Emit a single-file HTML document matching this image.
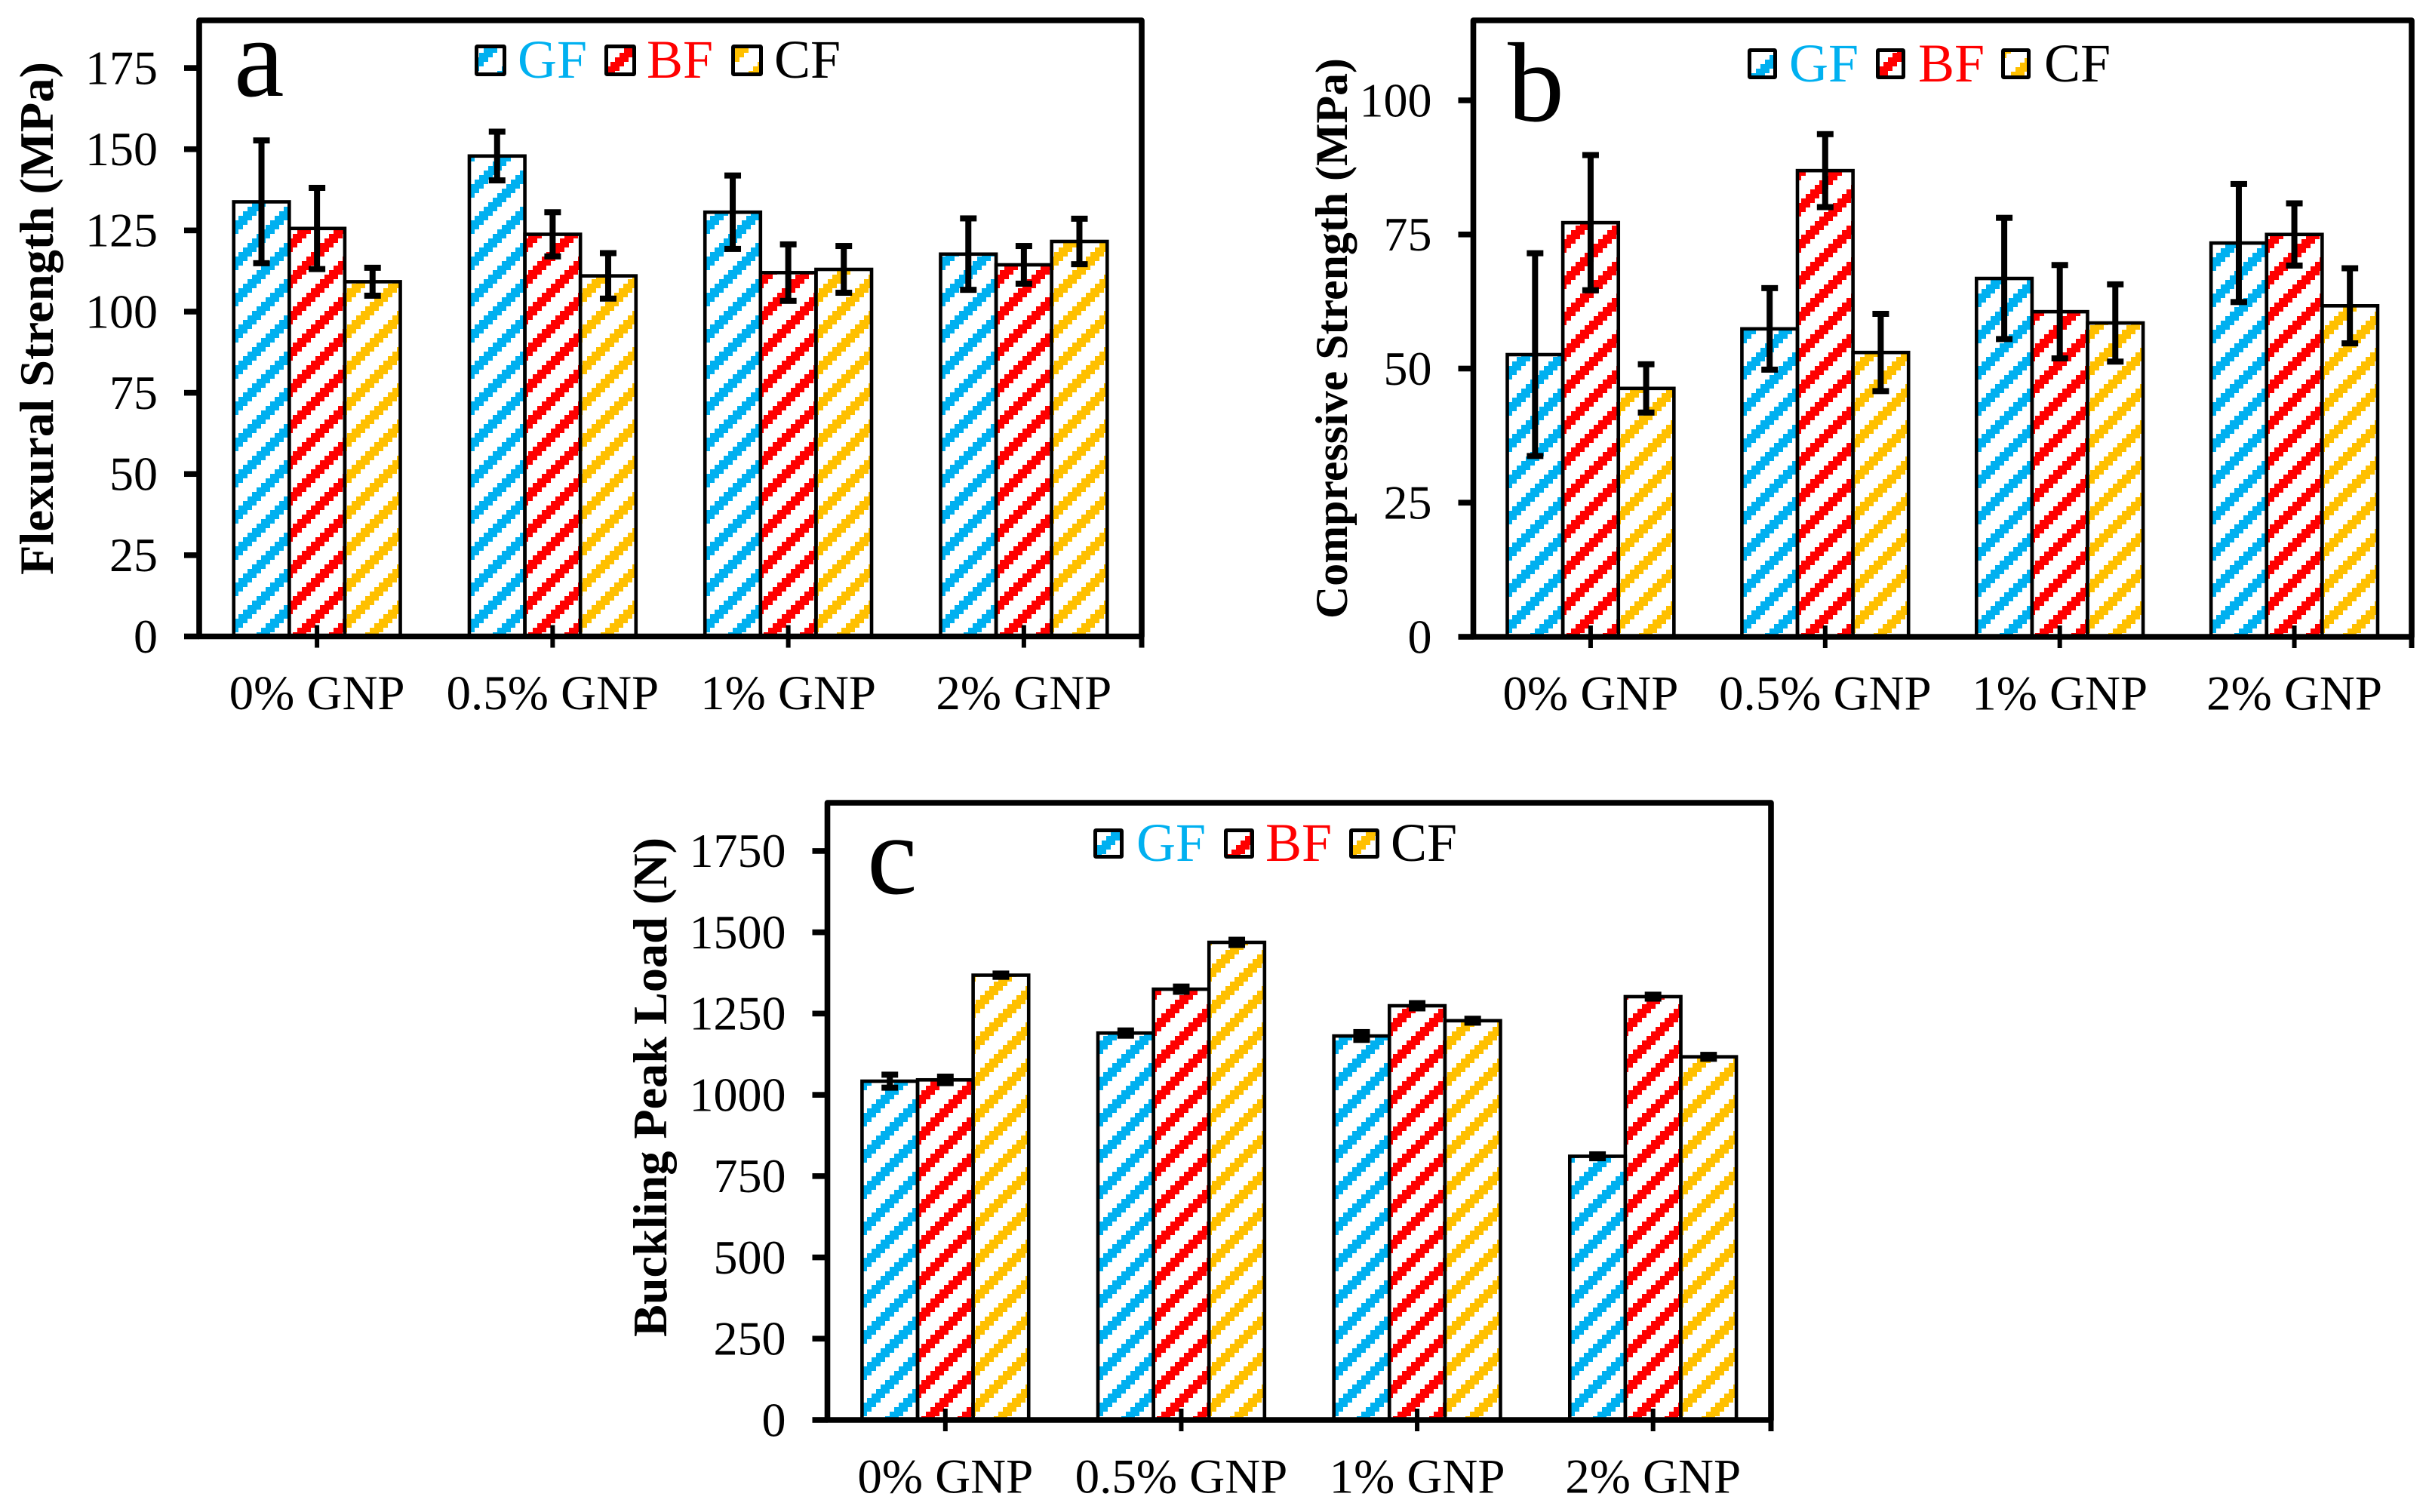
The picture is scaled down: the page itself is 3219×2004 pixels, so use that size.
<!DOCTYPE html>
<html lang="en">
<head>
<meta charset="utf-8">
<title>GNP composite mechanical properties</title>
<style>
html,body{margin:0;padding:0;background:#fff;width:3219px;height:2004px;overflow:hidden}
svg{display:block}
text{font-family:"Liberation Serif","Times New Roman",serif}
</style>
</head>
<body>
<svg id="figure" xmlns="http://www.w3.org/2000/svg" width="3219" height="2004" viewBox="0 0 3219 2004">
<rect x="0" y="0" width="3219" height="2004" fill="#ffffff"/>
<defs id="pattern-defs"></defs>
</svg>
<script>
// ---- chart data ----
const categories = ['0% GNP', '0.5% GNP', '1% GNP', '2% GNP'];
const seriesNames = ['GF', 'BF', 'CF'];

const flexuralTicks = [0, 25, 50, 75, 100, 125, 150, 175];
const flexuralGF = [133.8, 147.9, 130.6, 117.7];
const flexuralBF = [125.6, 123.8, 112, 114.4];
const flexuralCF = [109.2, 111, 113, 121.6];
const flexuralGFErr = [18.9, 7.5, 11.3, 11];
const flexuralBFErr = [12.5, 6.8, 8.7, 5.8];
const flexuralCFErr = [4.3, 7, 7.2, 7];

const compressiveTicks = [0, 25, 50, 75, 100];
const compressiveGF = [52.6, 57.4, 66.8, 73.4];
const compressiveBF = [77.2, 86.9, 60.6, 75];
const compressiveCF = [46.3, 53, 58.5, 61.7];
const compressiveGFErr = [18.9, 7.6, 11.3, 11];
const compressiveBFErr = [12.6, 6.8, 8.7, 5.8];
const compressiveCFErr = [4.5, 7.2, 7.2, 7];

const bucklingTicks = [0, 250, 500, 750, 1000, 1250, 1500, 1750];
const bucklingGF = [1042, 1190, 1181, 811];
const bucklingBF = [1046, 1325, 1274, 1302];
const bucklingCF = [1368, 1469, 1228, 1117];
const bucklingGFErr = [20, 8, 12, 6];
const bucklingBFErr = [10, 8, 8, 6];
const bucklingCFErr = [5, 8, 6, 6];

// ---- layout & style (not data) ----
const COLORS = ['#00B0F0', '#FF0000', '#FFC000'];
const LEGEND_TEXT = ['#00B0F0', '#FF0000', '#000000'];
const BAR_W = 73.6;
const HATCH_DX = [6.7, 10.6, 9.3];
const HATCH_DY = [18.5, 36.5, 12.5];

const panels = [
  { key: 'flexural', letter: 'a', title: 'Flexural Strength (MPa)',
    left: 264, right: 1513, top: 27, base: 843.5, pxPerUnit: 4.305,
    ticks: flexuralTicks, values: [flexuralGF, flexuralBF, flexuralCF], errs: [flexuralGFErr, flexuralBFErr, flexuralCFErr],
    titleX: 70, titleY: 422, titleLen: 680, titleSize: 64,
    letterX: 310, letterY: 127,
    legend: { swatchX: [631.5, 803.5, 971.5], swatchW: 37, swatchY: 61.5, swatchH: 37, textX: [686, 857, 1026], textY: 103,
      phase: [[641, 63.7], [815, 76], [974, 63.7]] } },
  { key: 'compressive', letter: 'b', title: 'Compressive Strength (MPa)',
    left: 1952.5, right: 3196, top: 27, base: 844, pxPerUnit: 7.11,
    ticks: compressiveTicks, values: [compressiveGF, compressiveBF, compressiveCF], errs: [compressiveGFErr, compressiveBFErr, compressiveCFErr],
    titleX: 1785, titleY: 448.5, titleLen: 743, titleSize: 60,
    letterX: 1998, letterY: 160,
    legend: { swatchX: [2318.5, 2488.5, 2654.5], swatchW: 34, swatchY: 66.5, swatchH: 36, textX: [2371, 2542, 2709], textY: 108,
      phase: [[2339, 79], [2502, 76], [2677, 83]] } },
  { key: 'buckling', letter: 'c', title: 'Buckling Peak Load (N)',
    left: 1096.5, right: 2347, top: 1064, base: 1882, pxPerUnit: 0.4309,
    ticks: bucklingTicks, values: [bucklingGF, bucklingBF, bucklingCF], errs: [bucklingGFErr, bucklingBFErr, bucklingCFErr],
    titleX: 883, titleY: 1441, titleLen: 662, titleSize: 64,
    letterX: 1149, letterY: 1184,
    legend: { swatchX: [1451.5, 1624.5, 1790.5], swatchW: 35, swatchY: 1100.5, swatchH: 35, textX: [1506, 1677, 1843], textY: 1141,
      phase: [[1466, 1108], [1644, 1114], [1804, 1108]] } }
];

// ---- helpers ----
const NS = 'http://www.w3.org/2000/svg';
const svg = document.getElementById('figure');
const defs = document.getElementById('pattern-defs');

function shape(tag, attrs, parent) {
  const node = document.createElementNS(NS, tag);
  for (const k in attrs) node.setAttribute(k, attrs[k]);
  (parent || svg).appendChild(node);
  return node;
}

function hatchPath() {
  let d = '';
  for (let i = 0; i < 8; i++) {
    for (let j = 0; j < 3; j++) {
      const row = (j - i + 8) % 8;
      d += 'M' + (i * 6) + ' ' + (row * 6) + 'h6v6h-6z';
    }
  }
  return d;
}
const HATCH_D = hatchPath();

function makeHatch(id, color, x0, y0) {
  const p = shape('pattern', { id: id, patternUnits: 'userSpaceOnUse', width: 48, height: 48,
    patternTransform: 'translate(' + Math.round(x0) + ' ' + Math.round(y0) + ')' }, defs);
  shape('path', { d: HATCH_D, fill: color, 'shape-rendering': 'crispEdges' }, p);
  return 'url(#' + id + ')';
}

function yScale(panel, v) { return panel.base - v * panel.pxPerUnit; }
function bandWidth(panel) { return (panel.right - panel.left) / categories.length; }
function xCenter(panel, i) { return panel.left + bandWidth(panel) * (i + 0.5); }

// ---- drawing ----
panels.forEach(function (panel) {
  const g = shape('g', {});
  
  

  // bars
  panel.values.forEach(function (vals, s) {
    vals.forEach(function (v, i) {
      const x = xCenter(panel, i) + (s - 1.5) * BAR_W;
      const y = yScale(panel, v);
      const fill = makeHatch(panel.key + '-h-' + s + '-' + i, COLORS[s], x + HATCH_DX[s], panel.base + HATCH_DY[s]);
      const bar = shape('rect', { x: x, y: y, width: BAR_W, height: panel.base - y, fill: fill, stroke: '#000', 'stroke-width': 4.6 }, g);
      
      
    });
  });

  // error bars
  panel.values.forEach(function (vals, s) {
    vals.forEach(function (v, i) {
      const cx = xCenter(panel, i) + (s - 1) * BAR_W;
      const hi = yScale(panel, v + panel.errs[s][i]);
      const lo = yScale(panel, v - panel.errs[s][i]);
      const eg = shape('g', {}, g);
      
      
      shape('rect', { x: cx - 4, y: hi, width: 8, height: lo - hi, fill: '#000' }, eg);
      shape('rect', { x: cx - 11, y: hi - 4, width: 22, height: 8, fill: '#000' }, eg);
      shape('rect', { x: cx - 11, y: lo - 4, width: 22, height: 8, fill: '#000' }, eg);
    });
  });

  // frame
  const frame = shape('path', { d: 'M' + panel.left + ' ' + panel.base + 'V' + panel.top + 'H' + panel.right + 'V' + panel.base + 'Z',
    fill: 'none', stroke: '#000', 'stroke-width': 7.6, 'stroke-linejoin': 'round' }, g);
  
  

  // y ticks and labels
  panel.ticks.forEach(function (t) {
    const y = yScale(panel, t);
    const tick = shape('rect', { x: panel.left - 20, y: y - 3.8, width: 20, height: 7.6, fill: '#000' }, g);
    
    
    const label = shape('text', { x: panel.left - 55, y: y + 21.3, 'font-size': 64, 'text-anchor': 'end', fill: '#000' }, g);
    label.textContent = String(t);
    
    
  });

  // x ticks and labels
  categories.forEach(function (c, i) {
    const cx = xCenter(panel, i);
    const tick = shape('rect', { x: cx - 3, y: panel.base - 15, width: 6, height: 30, fill: '#000' }, g);
    
    
    const label = shape('text', { x: cx, y: panel.base + 96.5, 'font-size': 65, 'text-anchor': 'middle', fill: '#000' }, g);
    label.textContent = c;
    
    
  });
  const endTick = shape('rect', { x: panel.right - 3.5, y: panel.base, width: 7, height: 15, fill: '#000' }, g);
  
  

  // y-axis title
  const title = shape('text', { x: 0, y: 0, transform: 'translate(' + panel.titleX + ' ' + panel.titleY + ') rotate(-90)',
    'font-size': panel.titleSize, 'font-weight': 'bold', 'text-anchor': 'middle', fill: '#000',
    textLength: panel.titleLen, lengthAdjust: 'spacingAndGlyphs' }, g);
  title.textContent = panel.title;
  
  

  // panel letter
  const letter = shape('text', { x: panel.letterX, y: panel.letterY, 'font-size': 150, fill: '#000' }, g);
  letter.textContent = panel.letter;
  
  

  // legend
  const lg = panel.legend;
  seriesNames.forEach(function (name, s) {
    const entry = shape('g', {}, g);
    
    
    const fill = makeHatch(panel.key + '-lg-' + s, COLORS[s], lg.phase[s][0], lg.phase[s][1]);
    const sw = shape('rect', { x: lg.swatchX[s], y: lg.swatchY, width: lg.swatchW, height: lg.swatchH, fill: fill, stroke: '#000', 'stroke-width': 5, rx: 1 }, entry);
    
    
    const txt = shape('text', { x: lg.textX[s], y: lg.textY, 'font-size': 72, fill: LEGEND_TEXT[s] }, entry);
    txt.textContent = name;
    
    
  });
});
</script>
</body>
</html>
